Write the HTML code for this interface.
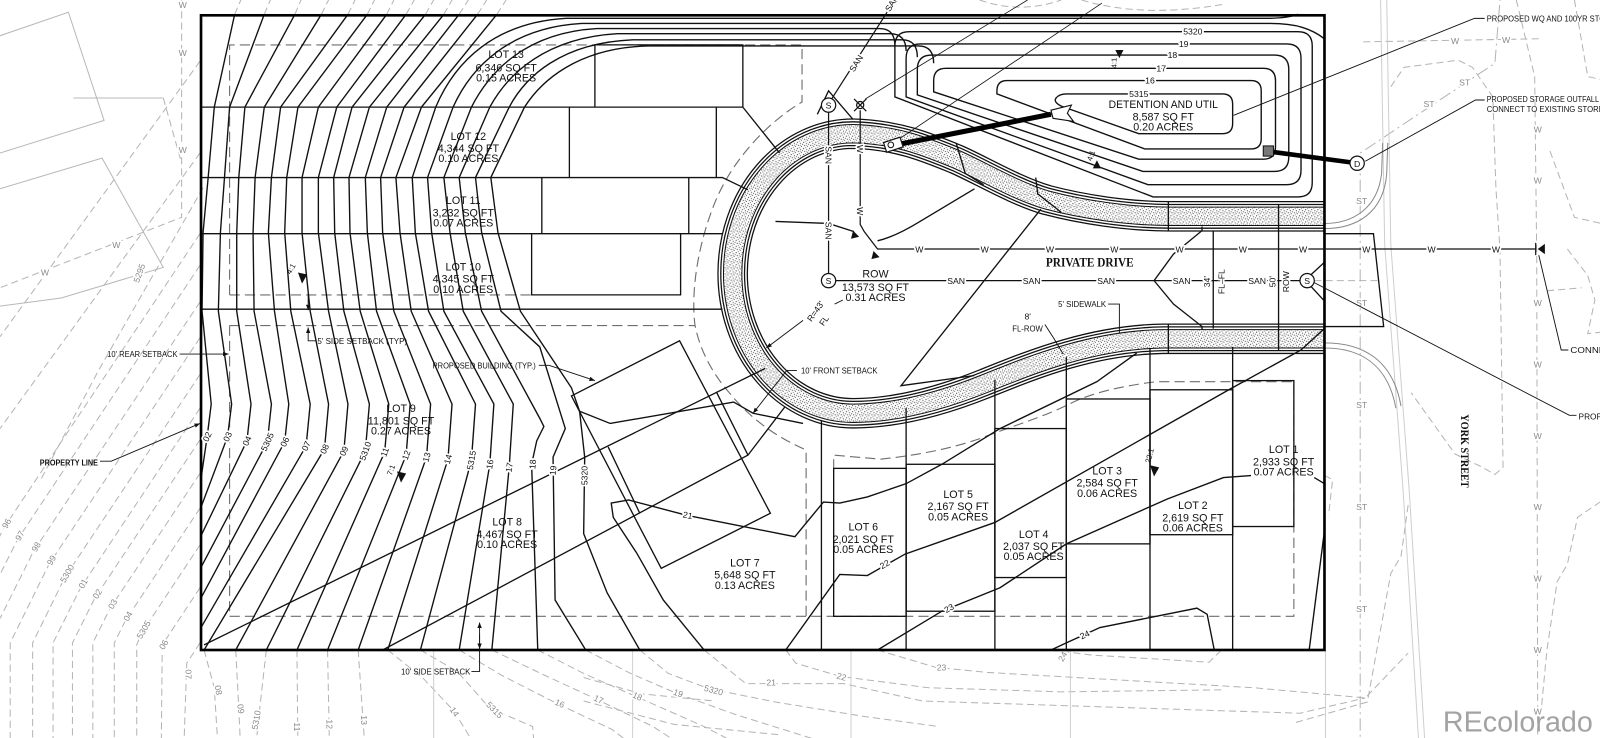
<!DOCTYPE html>
<html><head><meta charset="utf-8">
<style>
html,body{margin:0;padding:0;background:#fff;}
svg{display:block;}
text{font-family:"Liberation Sans",Arial,sans-serif;fill:#111;}
.t{font-size:10.5px;}
.s{font-size:8.5px;}
.g{font-size:8.5px;fill:#8a8a8a;}
.h{paint-order:stroke;stroke:#fff;stroke-width:3.5px;stroke-linejoin:round;}
</style></head><body>
<svg width="1600" height="738" viewBox="0 0 1600 738" xmlns="http://www.w3.org/2000/svg">
<defs>
<pattern id="st" width="6" height="6" patternUnits="userSpaceOnUse">
<rect width="6" height="6" fill="#fff"/>
<rect x="1" y="1" width="1" height="1" fill="#333"/>
<rect x="4" y="2" width="1" height="1" fill="#555"/>
<rect x="2" y="4" width="1" height="1" fill="#444"/>
<rect x="5" y="5" width="1" height="1" fill="#666"/>
<rect x="3" y="0" width="1" height="1" fill="#888"/>
<rect x="0" y="3" width="1" height="1" fill="#666"/>
<rect x="4" y="4" width="1" height="1" fill="#999"/>
</pattern>
<marker id="ah" viewBox="0 0 10 10" refX="10" refY="5" markerWidth="6" markerHeight="6" orient="auto"><path d="M0,1 L10,5 L0,9 z" fill="#111"/></marker>
</defs>
<rect width="1600" height="738" fill="#fff"/>
<g transform="scale(1.0204)">

<!-- ============ GRAY BACKGROUND (existing) ============ -->
<g fill="none" stroke="#b8b8b8" stroke-width="1">
 <path d="M0,35 L67,12 L102,118 L0,150"/>
 <path d="M0,185 L100,155 L160,262 L60,292 L0,300"/>
 <path d="M72,96 L160,96"/>
</g>
<g fill="none" stroke="#b4b4b4" stroke-width="1" stroke-dasharray="7 4">
 <path d="M178,0 L178,213 L0,282"/>
 <path d="M160,96 L178,160"/>
 <path d="M196,60 L0,330"/>
 <path d="M196,150 L0,420"/>
 <path d="M199,184 L96,364 L40,470"/>
 <path d="M196,229 L4,517 L-20,565"/>
 <path d="M196,260 L17,529 L-10,583"/>
 <path d="M196,296 L33,540 L0,606"/>
 <path d="M196,331 L48,553 L10,630 L10,738"/>
 <path d="M196,367 L64,565 L32,630 L32,738"/>
 <path d="M196,400 L79,576 L52,630 L52,738"/>
 <path d="M196,431 L93,586 L71,630 L71,738"/>
 <path d="M196,464 L108,596 L91,630 L91,738"/>
 <path d="M196,498 L123,608 L112,630 L112,738"/>
 <path d="M196,534 L139,620 L134,632 L134,738"/>
 <path d="M196,576 L159,632 L158,738"/>
 <path d="M196,630 L183,650 L180,738"/>
 <path d="M200,637 L210,674 L214,738"/>
 <path d="M231,637 L234,694 L236,738"/>
 <path d="M261,637 L255,690 L250,738"/>
 <path d="M291,637 L292,738"/>
 <path d="M321,637 L323,738"/>
 <path d="M351,637 L358,738"/>
 <path d="M380,637 L415,665 L445,697 L470,738"/>
 <path d="M412,637 L448,658 L480,694 L522,712 L524,738"/>
 <path d="M450,637 L492,662 L545,689 L600,715 L630,738"/>
 <path d="M482,637 L530,660 L584,685 L640,712 L680,738"/>
 <path d="M527,637 L572,660 L622,682 L690,712 L740,738"/>
 <path d="M574,637 L618,660 L662,679 L720,700 L800,725"/>
 <path d="M627,637 L655,660 L695,675 L760,688 L846,702 L920,712"/>
 <path d="M690,637 L731,670 L827,670 L904,687 L1274,699 L1338,684"/>
 <path d="M770,637 L780,650 L824,663 L910,674 L1040,678 L1200,676"/>
 <path d="M860,637 L917,654 L968,659 L1229,674 L1338,684 L1380,640"/>
 <path d="M1030,637 L1070,642 L1185,649 L1197,637"/>
 <path d="M572,664 L629,680 L700,687"/>
 <path d="M572,687 L661,710 L763,720"/>
 <path d="M230,14 L236,0 M259,14 L265,0 M289,14 L295,0 M315,14 L322,0 M341,14 L348,0 M360,14 L367,0 M379,14 L386,0 M398,14 L406,0 M417,14 L425,0 M435,14 L443,0 M450,14 L459,0 M468,14 L477,0 M487,14 L496,0"/>
 <path d="M960,0 Q1000,14 1040,0"/>
 <path d="M1060,0 Q1120,18 1200,4"/>
 <path d="M1333,738 L1333,150 L1465,62 L1470,0" stroke-dasharray="12 4 2 4"/>
 <path d="M1486,0 L1504,75 L1506,250 L1507,738"/>
 <path d="M1336,41 L1509,38"/>
 <path d="M1363,85 L1376,66 L1429,59 L1443,66 L1463,95 L1466,184 L1470,245 L1473,458 L1465,465 L1453,458 L1426,445 L1383,385"/>
 <path d="M1543,0 L1556,75 L1600,85"/>
 <path d="M1519,148 L1543,213 L1600,226"/>
 <path d="M1536,244 L1556,270 L1563,294 L1556,327 L1600,322"/>
 <path d="M1600,482 L1571,490 L1546,507 L1536,553 L1526,570 L1516,637 L1510,700"/>
 <path d="M1516,285 L1550,282"/>
 <path d="M1380,495 L1373,545 L1363,562 L1340,688 L1270,708"/>
 <path d="M1298,466 L1306,470 L1302,505"/>
 <path d="M1288,275 L1350,275"/>
</g>
<g fill="none" stroke="#cfcfcf" stroke-width="1">
 <path d="M1353,0 L1357,240 L1375,480 L1391,738"/>
 <path d="M1359,0 L1363,240 L1381,480 L1397,738"/>
 <path d="M425,637 L425,738 M620,637 L620,738 M834,637 L834,738 M1049,637 L1049,738 M1299,637 L1299,738"/>
</g>
<g fill="none" stroke="#8a8a8a" stroke-width="1">
 <path d="M1298,219 C1325,219 1350,205 1354,170 L1355,140"/>
 <path d="M1298,224 C1329,224 1356,209 1359,170 L1360,140"/>
 <path d="M1298,336 C1335,336 1365,352 1373,398"/>
 <path d="M1298,341 C1332,341 1360,356 1368,400"/>
</g>
<g class="g">
 <text x="4" y="520" transform="rotate(-60 4 517)" class="g h">96</text>
 <text x="17" y="532" transform="rotate(-60 17 529)" class="g h">97</text>
 <text x="33" y="543" transform="rotate(-60 33 540)" class="g h">98</text>
 <text x="48" y="556" transform="rotate(-60 48 553)" class="g h">99</text>
 <text x="58" y="568" transform="rotate(-60 64 565)" class="g h">5300</text>
 <text x="79" y="579" transform="rotate(-60 79 576)" class="g h">01</text>
 <text x="93" y="589" transform="rotate(-60 93 586)" class="g h">02</text>
 <text x="108" y="599" transform="rotate(-60 108 596)" class="g h">03</text>
 <text x="123" y="611" transform="rotate(-60 123 608)" class="g h">04</text>
 <text x="133" y="623" transform="rotate(-60 139 620)" class="g h">5305</text>
 <text x="157" y="637" transform="rotate(-60 159 634)" class="g h">06</text>
 <text x="180" y="662" transform="rotate(90 184 660)" class="g h">07</text>
 <text x="208" y="677" transform="rotate(80 212 676)" class="g h">08</text>
 <text x="232" y="697" transform="rotate(80 236 694)" class="g h">09</text>
 <text x="242" y="709" transform="rotate(-80 251 706)" class="g h">5310</text>
 <text x="287" y="715" transform="rotate(90 291 712)" class="g h">11</text>
 <text x="319" y="712" transform="rotate(90 323 709)" class="g h">12</text>
 <text x="353" y="708" transform="rotate(90 357 705)" class="g h">13</text>
 <text x="441" y="700" transform="rotate(55 445 697)" class="g h">14</text>
 <text x="476" y="697" transform="rotate(45 483 694)" class="g h">5315</text>
 <text x="544" y="692" transform="rotate(25 548 689)" class="g h">16</text>
 <text x="582" y="688" transform="rotate(25 586 685)" class="g h">17</text>
 <text x="620" y="685" transform="rotate(25 624 682)" class="g h">18</text>
 <text x="660" y="682" transform="rotate(20 664 679)" class="g h">19</text>
 <text x="690" y="679" transform="rotate(15 698 676)" class="g h">5320</text>
 <text x="751" y="672" class="g h">21</text>
 <text x="820" y="666" transform="rotate(15 824 663)" class="g h">22</text>
 <text x="918" y="657" class="g h">23</text>
 <text x="1037" y="647" transform="rotate(-60 1041 644)" class="g h">24</text>
 <text x="128" y="272" transform="rotate(-70 136 269)" class="g h">5295</text>
 <text x="175" y="8" class="g h">W</text><text x="175" y="55" class="g h">W</text><text x="175" y="150" class="g h">W</text>
 <text x="110" y="243" class="g h">W</text><text x="40" y="270" class="g h">W</text>
 <text x="1329" y="200" class="g h">ST</text><text x="1329" y="300" class="g h">ST</text><text x="1329" y="400" class="g h">ST</text><text x="1329" y="500" class="g h">ST</text><text x="1329" y="600" class="g h">ST</text>
 <text x="1395" y="105" class="g h">ST</text><text x="1430" y="84" class="g h">ST</text>
 <text x="1503" y="130" class="g h">W</text><text x="1503" y="180" class="g h">W</text><text x="1503" y="300" class="g h">W</text><text x="1503" y="360" class="g h">W</text><text x="1503" y="430" class="g h">W</text><text x="1503" y="500" class="g h">W</text><text x="1503" y="570" class="g h">W</text><text x="1503" y="640" class="g h">W</text><text x="1503" y="700" class="g h">W</text>
 <text x="1422" y="43" class="g h">W</text><text x="1472" y="42" class="g h">W</text>
</g>

<!-- ============ CUL-DE-SAC BAND ============ -->
<g fill="none">
 <path d="M1298,212 L1147,212 C1105,212 1060,205 1026,196 C995,187 960,166 937,156 C910,145 880,132 836,131 A118 137 0 0 0 836,405 C880,405 925,392 965,376 C1010,358 1070,333 1140,332 L1298,332" stroke="#111" stroke-width="30"/>
 <path d="M1298,212 L1147,212 C1105,212 1060,205 1026,196 C995,187 960,166 937,156 C910,145 880,132 836,131 A118 137 0 0 0 836,405 C880,405 925,392 965,376 C1010,358 1070,333 1140,332 L1298,332" stroke="#fff" stroke-width="27.5"/>
 <path d="M1298,212 L1147,212 C1105,212 1060,205 1026,196 C995,187 960,166 937,156 C910,145 880,132 836,131 A118 137 0 0 0 836,405 C880,405 925,392 965,376 C1010,358 1070,333 1140,332 L1298,332" stroke="#111" stroke-width="24.5"/>
 <path d="M1298,212 L1147,212 C1105,212 1060,205 1026,196 C995,187 960,166 937,156 C910,145 880,132 836,131 A118 137 0 0 0 836,405 C880,405 925,392 965,376 C1010,358 1070,333 1140,332 L1298,332" stroke="#fff" stroke-width="22"/>
 <path d="M1298,212 L1147,212 C1105,212 1060,205 1026,196 C995,187 960,166 937,156 C910,145 880,132 836,131 A118 137 0 0 0 836,405 C880,405 925,392 965,376 C1010,358 1070,333 1140,332 L1298,332" stroke="#111" stroke-width="19"/>
 <path d="M1298,212 L1147,212 C1105,212 1060,205 1026,196 C995,187 960,166 937,156 C910,145 880,132 836,131 A118 137 0 0 0 836,405 C880,405 925,392 965,376 C1010,358 1070,333 1140,332 L1298,332" stroke="url(#st)" stroke-width="17"/>
</g>

<!-- ============ SETBACK DASHED ============ -->
<g fill="none" stroke="#6e6e6e" stroke-width="1.1" stroke-dasharray="10 5">
 <path d="M225,289 L225,44 L786,44 L786,100 C760,115 720,150 700,200 C684,240 677,285 681,318 C686,345 700,368 714,384 C735,410 760,428 790,441 L790,604"/>
 <path d="M225,289 L521,289"/>
 <path d="M225,319 L681,319"/>
 <path d="M225,319 L225,604 L1268,604 L1268,374 L1134,374 C1100,378 1070,385 1050,395 C1020,410 990,418 960,430 C930,440 900,446 863,450 L817,446 L817,459"/>
</g>

<!-- ============ LEFT CONTOURS ============ -->
<g fill="none" stroke="#111" stroke-width="1.35">
 <path d="M230,14 L210,105 L204,174 L199,228 L198,305 L207,396 L203,428 L197,469"/>
 <path d="M259,14 L225,105 L220,174 L216,228 L214,305 L227,396 L223,428 L197,497"/>
 <path d="M289,14 L240,105 L234,174 L232,228 L232,305 L246,396 L242,432 L197,525"/>
 <path d="M315,14 L259,105 L250,174 L248,228 L249,305 L266,396 L262,433 L197,556"/>
 <path d="M341,14 L275,105 L266,174 L263,228 L269,305 L283,396 L279,433 L197,586"/>
 <path d="M360,14 L292,105 L281,174 L279,228 L285,305 L304,396 L300,437 L197,615"/>
 <path d="M379,14 L312,105 L296,174 L296,228 L304,305 L322,396 L318,440 L200,637"/>
 <path d="M398,14 L330,105 L312,174 L312,228 L322,305 L341,396 L337,442 L231,637"/>
 <path d="M417,14 L345,105 L327,174 L328,228 L337,305 L362,396 L358,442 L261,637"/>
 <path d="M435,14 L362,105 L342,174 L343,228 L353,305 L381,396 L377,443 L291,637"/>
 <path d="M450,14 L379,105 L358,174 L360,228 L369,305 L402,396 L398,446 L321,637"/>
 <path d="M468,14 L396,105 L373,174 L375,228 L386,305 L422,396 L418,448 L351,637"/>
 <path d="M487,14 L413,105 L388,174 L392,228 L403,305 L443,396 L439,450 L380,637"/>
 <path d="M1272,14 Q1262,18 1240,18 L555,18 C485,22 446,60 427,105 L404,174 L407,228 L420,305 L466,396 L462,451 L412,637"/>
 <path d="M1298,38 C1285,28 1270,23 1245,23 L570,23 C500,27 462,65 444,105 L419,174 L423,228 L435,305 L484,396 L480,455 L450,637"/>
 <path d="M877,45 Q877,28 862,28 L585,28 C515,32 480,70 462,105 L435,174 L441,228 L454,305 L503,396 L499,458 L482,637"/>
 <path d="M888,50 Q888,33 872,33 L605,33 C535,37 498,72 480,105 L450,174 L456,228 L472,305 L529,410 L533,418 L526,432 L521,455 L527,637"/>
 <path d="M899,56 Q899,39 884,39 L620,39 C550,42 515,75 499,105 L466,174 L472,228 L491,305 L529,340 L554,420 L542,448 L544,588 L574,637"/>
 <path d="M915,62 Q915,45 900,45 L635,45 C565,47 530,80 514,105 L481,174 L488,228 L510,305 L560,380 L568,403 L573,448 L572,523 L595,581 L627,637"/>
 <path d="M568,403 L598,415 L719,394 L738,405 L787,415"/>
 <!-- pond rings -->
 <path d="M891,31 L1272,31 Q1286,31 1286,45 L1286,179 Q1286,193 1272,193 L1130,193 L877,95 L877,45 Q877,31 891,31 Z"/>
 <path d="M902,43 L1261,43 Q1275,43 1275,57 L1275,167 Q1275,181 1261,181 L1125,181 L888,95 L888,57 Q888,43 902,43 Z"/>
 <path d="M913,54 L1249,54 Q1263,54 1263,68 L1263,154 Q1263,168 1249,168 L1120,168 L899,93 L899,68 Q899,54 913,54 Z"/>
 <path d="M927,67 L1238,67 Q1250,67 1250,79 L1250,144 Q1250,156 1238,156 L1116,156 L915,90 L915,79 Q915,67 927,67 Z"/>
 <path d="M987,79 L1226,79 Q1236,79 1236,89 L1236,136 Q1236,146 1226,146 L1122,146 L977,92 L977,89 Q977,79 987,79 Z"/>
 <path d="M1045,92 L1198,92 Q1208,92 1208,102 L1208,121 Q1208,131 1198,131 L1116,131 L1040,104 Q1032,100 1035,96 Q1038,92 1045,92 Z"/>
 <!-- contours 21-24 -->
 <path d="M690,637 L650,588 L624,542 L601,507 L599,493 L616,490 L673,505 L779,526 L807,492 L823,493 L850,487 L888,474 L923,455 L980,420 L1075,374 L1114,346"/>
 <path d="M770,637 L823,563 L850,564 L887,543 L975,512 L1206,381 L1275,343 L1298,322"/>
 <path d="M860,637 L923,599 L980,576 L1045,533 L1144,489 L1199,468 L1226,466 M1288,468 L1298,474"/>
 <path d="M1030,637 L1045,630 L1078,615 L1173,596 L1183,602 L1190,637"/>
 <path d="M1298,520 L1283,637"/>
</g>

<!-- ============ LOT LINES ============ -->
<g fill="none" stroke="#111" stroke-width="1.3">
 <path d="M196,105 L728,105 L764,150"/>
 <path d="M583,105 L583,44 L728,44 L728,105"/>
 <path d="M558,105 L558,174 M702,105 L702,174"/>
 <path d="M196,174 L708,174 L733,186"/>
 <path d="M531,174 L531,229 M675,174 L675,229"/>
 <path d="M196,229 L708,229"/>
 <path d="M521,229 L521,289 L667,289 L667,229"/>
 <path d="M196,303 L708,303"/>
 <path d="M560,388 L666,334 L755,503 L648,557 Z"/>
 <path d="M200,632 L750,361"/>
 <path d="M375,637 L733,446 L769,399"/>
 <path d="M596,438 L627,503 M702,384 L733,446"/>
 <path d="M805,412 L805,637 M888,400 L888,637 M975,372 L975,637 M1045,350 L1045,637 M1127,341 L1127,637 M1208,340 L1208,637"/>
 <rect x="817" y="459" width="71" height="145"/>
 <rect x="888" y="455" width="87" height="144"/>
 <rect x="975" y="420" width="70" height="146"/>
 <rect x="1045" y="391" width="82" height="142"/>
 <rect x="1127" y="382" width="81" height="142"/>
 <rect x="1208" y="373" width="60" height="143"/>
 <path d="M1020,205 L883,378 L955,368"/>
 <path d="M937,140 L946,170 L964,181"/>
 <path d="M1015,174 L1017,190 L1040,208"/>
 <path d="M760,217 L812,219 L837,227"/>
 <path d="M860,236 Q877,232 900,218 L955,185"/>
 <path d="M1145,198 L1145,226 M1145,318 L1145,346"/>
 <path d="M1178,222 L1178,226 L1150,249 L1131,275 L1150,298 L1178,320 L1178,323"/>
 <path d="M1298,229 L1346,229 L1356,320 L1298,320"/>
 <path d="M1298,257 L1285,269 M1285,281 L1298,295"/>
 <path d="M1189,226 L1189,322 M1253,200 L1253,344"/>
 <path d="M801,112 L812,89 L836,117"/>
</g>

<rect x="197" y="15" width="1101" height="622" fill="none" stroke="#000" stroke-width="2.6"/>

<!-- ============ UTILITIES ============ -->
<g fill="none" stroke="#111" stroke-width="1.2">
 <path d="M815,97 L877,0"/>
 <path d="M812,110 L812,268"/>
 <path d="M819,275 L1274,275"/>
 <path d="M843,108 L843,220 L847,227 L860,244 L1505,244"/>
 <path d="M1505,238 L1505,250"/>
 <path d="M848,97 L1007,0" stroke-width="0.8"/>
 <path d="M880,137 L1080,3" stroke-width="0.8"/>
 <path d="M883,141 L1030,112" stroke="#000" stroke-width="5"/>
 <path d="M1248,149 L1323,159" stroke="#000" stroke-width="4.5"/>
</g>
<path d="M1507,244 L1514,239 L1514,249 Z" fill="#111"/>
<path d="M836,226 L842,232 L834,234 Z M856,246 L862,252 L854,254 Z" fill="#111"/>
<path d="M1030,108 L1050,103 L1046,111 L1052,119 L1032,116 Z" fill="#fff" stroke="#111" stroke-width="1.1"/>
<rect x="867" y="137" width="17" height="10" transform="rotate(-18 875 142)" fill="#fff" stroke="#111" stroke-width="1.2"/>
<circle cx="873" cy="142" r="2.8" fill="none" stroke="#111" stroke-width="1"/>
<rect x="1238" y="143" width="10" height="10" fill="#777" stroke="#111" stroke-width="1"/>
<g stroke="#111" stroke-width="1.2" fill="none">
 <circle cx="843" cy="103" r="3.5"/>
 <path d="M837,97 L849,109 M849,97 L837,109"/>
</g>
<g fill="#fff" stroke="#111" stroke-width="1.2">
 <circle cx="812" cy="103" r="7"/>
 <circle cx="812" cy="275" r="7"/>
 <circle cx="1281" cy="275" r="7"/>
 <circle cx="1330" cy="160" r="7"/>
</g>
<g class="s" text-anchor="middle">
 <text x="812" y="106.5">S</text>
 <text x="812" y="278.5">S</text>
 <text x="1281" y="278.5">S</text>
 <text x="1330" y="163.5">D</text>
</g>

<g class="s h" text-anchor="middle">
 <text x="901" y="247.5" class="s h">W</text><text x="965" y="247.5" class="s h">W</text><text x="1029" y="247.5" class="s h">W</text><text x="1092" y="247.5" class="s h">W</text><text x="1156" y="247.5" class="s h">W</text><text x="1218" y="247.5" class="s h">W</text><text x="1277" y="247.5" class="s h">W</text><text x="1339" y="247.5" class="s h">W</text><text x="1403" y="247.5" class="s h">W</text><text x="1466" y="247.5" class="s h">W</text>
 <text x="937" y="278.5" class="s h">SAN</text><text x="1011" y="278.5" class="s h">SAN</text><text x="1084" y="278.5" class="s h">SAN</text><text x="1158" y="278.5" class="s h">SAN</text><text x="1232" y="278.5" class="s h">SAN</text>
 <text x="812" y="155" transform="rotate(90 812 152)" class="s h">SAN</text>
 <text x="812" y="229" transform="rotate(90 812 226)" class="s h">SAN</text>
 <text x="839" y="65" transform="rotate(-58 839 62)" class="s h">SAN</text>
 <text x="874" y="6" transform="rotate(-58 874 3)" class="s h">SAN</text>
 <text x="843" y="149" transform="rotate(90 843 146)" class="s h">W</text>
 <text x="843" y="210" transform="rotate(90 843 207)" class="s h">W</text>
 <text x="1183" y="279" transform="rotate(-90 1183 276)" class="s h">34'</text>
 <text x="1197" y="279" transform="rotate(-90 1197 276)" class="s h">FL–FL</text>
 <text x="1247" y="279" transform="rotate(-90 1247 276)" class="s h">50'</text>
 <text x="1260" y="279" transform="rotate(-90 1260 276)" class="s h">ROW</text>
</g>

<g class="s h" text-anchor="middle">
 <text x="203" y="431" transform="rotate(-65 203 428)" class="s h">02</text>
 <text x="223" y="431" transform="rotate(-65 223 428)" class="s h">03</text>
 <text x="242" y="435" transform="rotate(-65 242 432)" class="s h">04</text>
 <text x="262" y="436" transform="rotate(-65 262 433)" class="s h">5305</text>
 <text x="279" y="436" transform="rotate(-65 279 433)" class="s h">06</text>
 <text x="300" y="440" transform="rotate(-65 300 437)" class="s h">07</text>
 <text x="318" y="443" transform="rotate(-65 318 440)" class="s h">08</text>
 <text x="337" y="445" transform="rotate(-65 337 442)" class="s h">09</text>
 <text x="358" y="445" transform="rotate(-70 358 442)" class="s h">5310</text>
 <text x="377" y="446" transform="rotate(-70 377 443)" class="s h">11</text>
 <text x="398" y="449" transform="rotate(-70 398 446)" class="s h">12</text>
 <text x="418" y="451" transform="rotate(-75 418 448)" class="s h">13</text>
 <text x="439" y="453" transform="rotate(-75 439 450)" class="s h">14</text>
 <text x="462" y="454" transform="rotate(-80 462 451)" class="s h">5315</text>
 <text x="480" y="458" transform="rotate(-80 480 455)" class="s h">16</text>
 <text x="499" y="461" transform="rotate(-80 499 458)" class="s h">17</text>
 <text x="522" y="458" transform="rotate(-85 522 455)" class="s h">18</text>
 <text x="542" y="464" transform="rotate(-85 542 461)" class="s h">19</text>
 <text x="573" y="469" transform="rotate(-90 573 466)" class="s h">5320</text>
 <text x="674" y="508" transform="rotate(12 674 505)" class="s h">21</text>
 <text x="867" y="556" transform="rotate(-30 867 553)" class="s h">22</text>
 <text x="930" y="599" transform="rotate(-30 930 596)" class="s h">23</text>
 <text x="1063" y="625" transform="rotate(-25 1063 622)" class="s h">24</text>
 <text x="1169" y="34" class="s h">5320</text>
 <text x="1160" y="46" class="s h">19</text>
 <text x="1149" y="57" class="s h">18</text>
 <text x="1138" y="70" class="s h">17</text>
 <text x="1127" y="82" class="s h">16</text>
 <text x="1116" y="95" class="s h">5315</text>
</g>

<g fill="#111">
 <path d="M292,267 L301,269 L296,278 Z"/>
 <path d="M389,462 L398,464 L393,473 Z"/>
 <path d="M1127,456 L1136,458 L1131,467 Z"/>
 <path d="M1093,49 L1101,49 L1097,57 Z"/>
 <path d="M1071,165 L1079,165 L1075,157 Z"/>
</g>
<g class="s">
 <text x="280" y="265" transform="rotate(-60 286 263)" font-size="7.5">4:1</text>
 <text x="378" y="462" transform="rotate(-70 384 460)" font-size="7.5">7:1</text>
 <text x="1120" y="449" transform="rotate(-75 1127 447)" font-size="7.5">22:1</text>
 <text x="1087" y="64" transform="rotate(-90 1092 62)" font-size="7.5">4:1</text>
 <text x="1064" y="154" transform="rotate(-70 1070 152)" font-size="7.5">4:1</text>
</g>

<g class="t" text-anchor="middle">
 <text x="496" y="57">LOT 13</text><text x="496" y="70">6,346 SQ FT</text><text x="496" y="80">0.15 ACRES</text>
 <text x="459" y="137">LOT 12</text><text x="459" y="149">4,344 SQ FT</text><text x="459" y="159">0.10 ACRES</text>
 <text x="454" y="200">LOT 11</text><text x="454" y="212">3,232 SQ FT</text><text x="454" y="222">0.07 ACRES</text>
 <text x="454" y="265">LOT 10</text><text x="454" y="277">4,345 SQ FT</text><text x="454" y="287">0.10 ACRES</text>
 <text x="393" y="404">LOT 9</text><text x="393" y="416">11,801 SQ FT</text><text x="393" y="426">0.27 ACRES</text>
 <text x="497" y="515">LOT 8</text><text x="497" y="527">4,467 SQ FT</text><text x="497" y="537">0.10 ACRES</text>
 <text x="730" y="555">LOT 7</text><text x="730" y="567">5,648 SQ FT</text><text x="730" y="577">0.13 ACRES</text>
 <text x="846" y="520">LOT 6</text><text x="846" y="532">2,021 SQ FT</text><text x="846" y="542">0.05 ACRES</text>
 <text x="939" y="488">LOT 5</text><text x="939" y="500">2,167 SQ FT</text><text x="939" y="510">0.05 ACRES</text>
 <text x="1013" y="527">LOT 4</text><text x="1013" y="539">2,037 SQ FT</text><text x="1013" y="549">0.05 ACRES</text>
 <text x="1085" y="465">LOT 3</text><text x="1085" y="477">2,584 SQ FT</text><text x="1085" y="487">0.06 ACRES</text>
 <text x="1169" y="499">LOT 2</text><text x="1169" y="511">2,619 SQ FT</text><text x="1169" y="521">0.06 ACRES</text>
 <text x="1258" y="444">LOT 1</text><text x="1258" y="456">2,933 SQ FT</text><text x="1258" y="466">0.07 ACRES</text>
 <text x="858" y="272">ROW</text><text x="858" y="285">13,573 SQ FT</text><text x="858" y="295">0.31 ACRES</text>
 <text x="1140" y="106" textLength="107" lengthAdjust="spacingAndGlyphs">DETENTION AND UTIL</text>
 <text x="1140" y="118">8,587 SQ FT</text><text x="1140" y="128">0.20 ACRES</text>
</g>
<text x="1068" y="261" text-anchor="middle" font-size="12" font-weight="bold" textLength="86" lengthAdjust="spacingAndGlyphs" style="font-family:'Liberation Serif',serif">PRIVATE DRIVE</text>

<g fill="none" stroke="#111" stroke-width="0.9">
 <path d="M528,358 L538,358 L583,373" marker-end="url(#ah)"/>
 <path d="M310,334 L302,334 L302,321" marker-end="url(#ah)"/>
 <path d="M302,289 L302,304" marker-end="url(#ah)"/>
 <path d="M176,347 L224,347" marker-end="url(#ah)"/>
 <path d="M98,452 L109,452 L196,415" marker-end="url(#ah)"/>
 <path d="M781,363 L771,363 L738,405" marker-end="url(#ah)"/>
 <path d="M1086,298 L1097,298 L1097,327"/>
 <path d="M1024,318 L1033,332 L1042,347"/>
 <path d="M787,314 L751,341" marker-end="url(#ah)"/>
 <path d="M818,298 L826,294"/>
 <path d="M462,658 L470,658 L470,610" marker-end="url(#ah)"/>
 <path d="M470,622 L470,636" marker-end="url(#ah)"/>
 <path d="M1455,18 L1445,18 L1209,113"/>
 <path d="M1455,98 L1446,98 L1338,158"/>
 <path d="M1537,343 L1530,343 L1508,250"/>
 <path d="M1545,407 L1538,407 L1288,277"/>
</g>
<g class="s">
 <text x="424" y="361" textLength="101" lengthAdjust="spacingAndGlyphs">PROPOSED BUILDING (TYP.)</text>
 <text x="311" y="337" textLength="88" lengthAdjust="spacingAndGlyphs">5' SIDE SETBACK (TYP)</text>
 <text x="105" y="350" textLength="69" lengthAdjust="spacingAndGlyphs">10' REAR SETBACK</text>
 <text x="39" y="456" font-weight="bold" textLength="57" lengthAdjust="spacingAndGlyphs">PROPERTY LINE</text>
 <text x="785" y="366" textLength="75" lengthAdjust="spacingAndGlyphs">10' FRONT SETBACK</text>
 <text x="1037" y="301" textLength="47" lengthAdjust="spacingAndGlyphs">5' SIDEWALK</text>
 <text x="1004" y="313">8'</text>
 <text x="992" y="325" textLength="30" lengthAdjust="spacingAndGlyphs">FL-ROW</text>
 <text x="786" y="306" transform="rotate(-55 800 302)" class="s h">R=43'</text>
 <text x="803" y="318" transform="rotate(-55 807 315)" class="s h">FL</text>
 <text x="393" y="661" textLength="68" lengthAdjust="spacingAndGlyphs">10' SIDE SETBACK</text>
 <text x="1457" y="21" textLength="137" lengthAdjust="spacingAndGlyphs">PROPOSED WQ AND 100YR STORAGE</text>
 <text x="1457" y="100" textLength="110" lengthAdjust="spacingAndGlyphs">PROPOSED STORAGE OUTFALL</text>
 <text x="1457" y="110" textLength="116" lengthAdjust="spacingAndGlyphs">CONNECT TO EXISTING STORM</text>
 <text x="1539" y="346" textLength="62" lengthAdjust="spacingAndGlyphs">CONNECT TO</text>
 <text x="1547" y="411" textLength="46" lengthAdjust="spacingAndGlyphs">PROPOSED</text>
</g>
<text x="1436" y="446" transform="rotate(90 1436 442)" text-anchor="middle" font-size="11" font-weight="bold" textLength="72" lengthAdjust="spacingAndGlyphs" style="font-family:'Liberation Serif',serif">YORK STREET</text>
<text x="1414" y="717" font-size="28" textLength="147" lengthAdjust="spacingAndGlyphs" style="fill:#a3a3a3">REcolorado</text>
</g>
</svg>
</body></html>
